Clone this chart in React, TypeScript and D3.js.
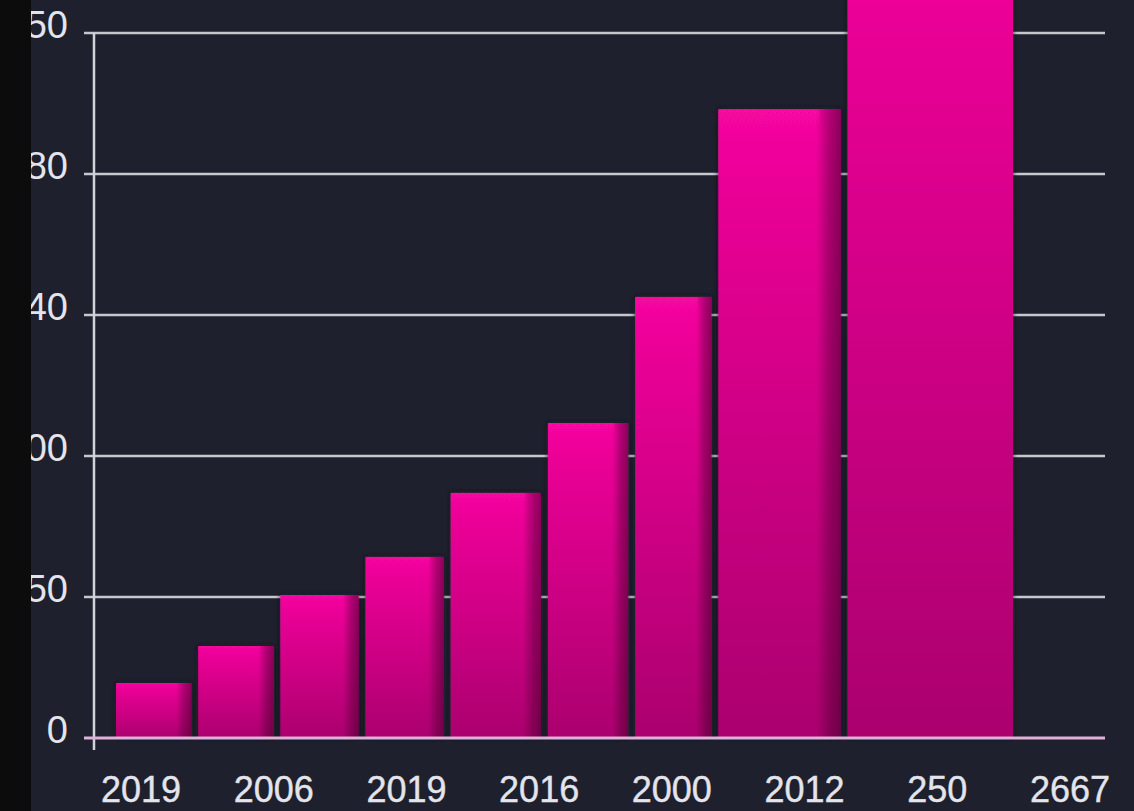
import React, { useEffect, useRef } from 'react'
import * as d3 from 'd3'

// x-axis labels (as printed under the chart)
const categories = ['2019', '2006', '2019', '2016', '2000', '2012', '250', '2667']

// bar heights, in y-axis units
const barValues = [19.5, 32.6, 50.7, 64.2, 86.9, 111.7, 156.4, 223, 290]

// relative bar widths (the bars get wider to the right)
const barWidths = [75, 75, 78, 78, 90, 80, 76, 122, 165]

// y ticks and the text printed next to them
const yTicks = [0, 50, 100, 150, 200, 250]
const yTickLabels = ['0', '50', '100', '140', '180', '250']

const W = 1134
const H = 811

const App: React.FC = () => {
  const svgRef = useRef<SVGSVGElement | null>(null)

  useEffect(() => {
    if (!svgRef.current) return
    document.body.style.margin = '0'
    document.body.style.background = '#1e212d'

    const svg = d3.select(svgRef.current)
    svg.selectAll('*').remove()

    const plot = { left: 94, right: 1105, top: 33, bottom: 738 }
    const barsStart = 116
    const barsEnd = 1013
    const gap = 7

    // Scales
    const y = d3.scaleLinear().domain([0, 250]).range([plot.bottom, plot.top])

    const widthScale = d3.scaleLinear()
      .domain([0, d3.sum(barWidths)])
      .range([0, barsEnd - barsStart - gap * (barWidths.length - 1)])

    const cum = d3.cumsum(barWidths)
    const bars = barValues.map((v, i) => {
      const x0 = barsStart + widthScale(cum[i] - barWidths[i]) + i * gap
      const x1 = barsStart + widthScale(cum[i]) + i * gap
      return { value: v, x: x0, w: x1 - x0, i }
    })

    const xLabel = d3.scalePoint<number>()
      .domain(categories.map((_, i) => i))
      .range([141, 1070])

    const defs = svg.append('defs')

    const front = defs.append('linearGradient')
      .attr('id', 'barFront')
      .attr('x1', 0).attr('y1', 0).attr('x2', 0).attr('y2', 1)
    front.append('stop').attr('offset', '0%').attr('stop-color', '#f607a0')
    front.append('stop').attr('offset', '12%').attr('stop-color', '#ea0396')
    front.append('stop').attr('offset', '100%').attr('stop-color', '#ab006e')

    const side = defs.append('linearGradient')
      .attr('id', 'barSide')
      .attr('x1', 0).attr('y1', 0).attr('x2', 1).attr('y2', 0)
    side.append('stop').attr('offset', '0%').attr('stop-color', '#4a0030').attr('stop-opacity', 0)
    side.append('stop').attr('offset', '55%').attr('stop-color', '#4a0030').attr('stop-opacity', 0.4)
    side.append('stop').attr('offset', '100%').attr('stop-color', '#3a0026').attr('stop-opacity', 0.55)

    const halo = defs.append('filter')
      .attr('id', 'halo')
      .attr('x', '-20%').attr('y', '-20%').attr('width', '140%').attr('height', '140%')
    halo.append('feDropShadow')
      .attr('dx', 0).attr('dy', 0)
      .attr('stdDeviation', 2.5)
      .attr('flood-color', '#151720')
      .attr('flood-opacity', 1)

    // Background
    svg.append('rect')
      .attr('width', W).attr('height', H)
      .attr('fill', '#1e212d')

    // Gridlines
    svg.append('g')
      .selectAll('line')
      .data(yTicks.slice(1))
      .join('line')
      .attr('x1', 84).attr('x2', plot.right)
      .attr('y1', d => y(d)).attr('y2', d => y(d))
      .attr('stroke', '#c6c8d0')
      .attr('stroke-width', 2.5)

    // Y axis line
    svg.append('line')
      .attr('x1', plot.left).attr('x2', plot.left)
      .attr('y1', plot.top).attr('y2', plot.bottom + 12)
      .attr('stroke', '#d2d3da')
      .attr('stroke-width', 2.5)

    // Bars
    const barG = svg.append('g')
    const g = barG.selectAll('g')
      .data(bars)
      .join('g')
      .attr('filter', 'url(#halo)')

    g.append('rect')
      .attr('x', d => d.x)
      .attr('y', d => y(d.value))
      .attr('width', d => d.w)
      .attr('height', d => y(0) - y(d.value))
      .attr('fill', 'url(#barFront)')

    // darker right-hand side face, all but the last big bar
    g.filter(d => d.i < bars.length - 1)
      .append('rect')
      .attr('x', d => d.x + d.w * 0.8)
      .attr('y', d => y(d.value))
      .attr('width', d => d.w * 0.2)
      .attr('height', d => y(0) - y(d.value))
      .attr('fill', 'url(#barSide)')

    // Baseline
    svg.append('line')
      .attr('x1', 84).attr('x2', plot.right)
      .attr('y1', y(0)).attr('y2', y(0))
      .attr('stroke', '#dcb2d6')
      .attr('stroke-width', 3)

    // Y tick labels
    svg.append('g')
      .selectAll('text')
      .data(yTicks)
      .join('text')
      .attr('x', 68)
      .attr('y', d => y(d) + 5)
      .attr('text-anchor', 'end')
      .attr('fill', '#e4e4ec')
      .style('font-family', '"Liberation Sans", Arial, sans-serif')
      .style('font-size', '38px')
      .text((_, i) => yTickLabels[i])

    // X labels
    svg.append('g')
      .selectAll('text')
      .data(categories)
      .join('text')
      .attr('x', (_, i) => xLabel(i) || 0)
      .attr('y', 802)
      .attr('text-anchor', 'middle')
      .attr('fill', '#e4e4ec')
      .attr('stroke', '#e4e4ec')
      .attr('stroke-width', 0.4)
      .style('font-family', '"Liberation Sans", Arial, sans-serif')
      .style('font-size', '36px')
      .text(d => d)

    // Black strip on the left edge that hides the label's leading digits
    svg.append('rect')
      .attr('x', 0).attr('y', 0)
      .attr('width', 31).attr('height', H)
      .attr('fill', '#0c0c0c')
  }, [])

  return (
    <svg
      ref={svgRef}
      width={W}
      height={H}
      style={{ position: 'fixed', left: 0, top: 0, display: 'block' }}
    />
  )
}

export default App
